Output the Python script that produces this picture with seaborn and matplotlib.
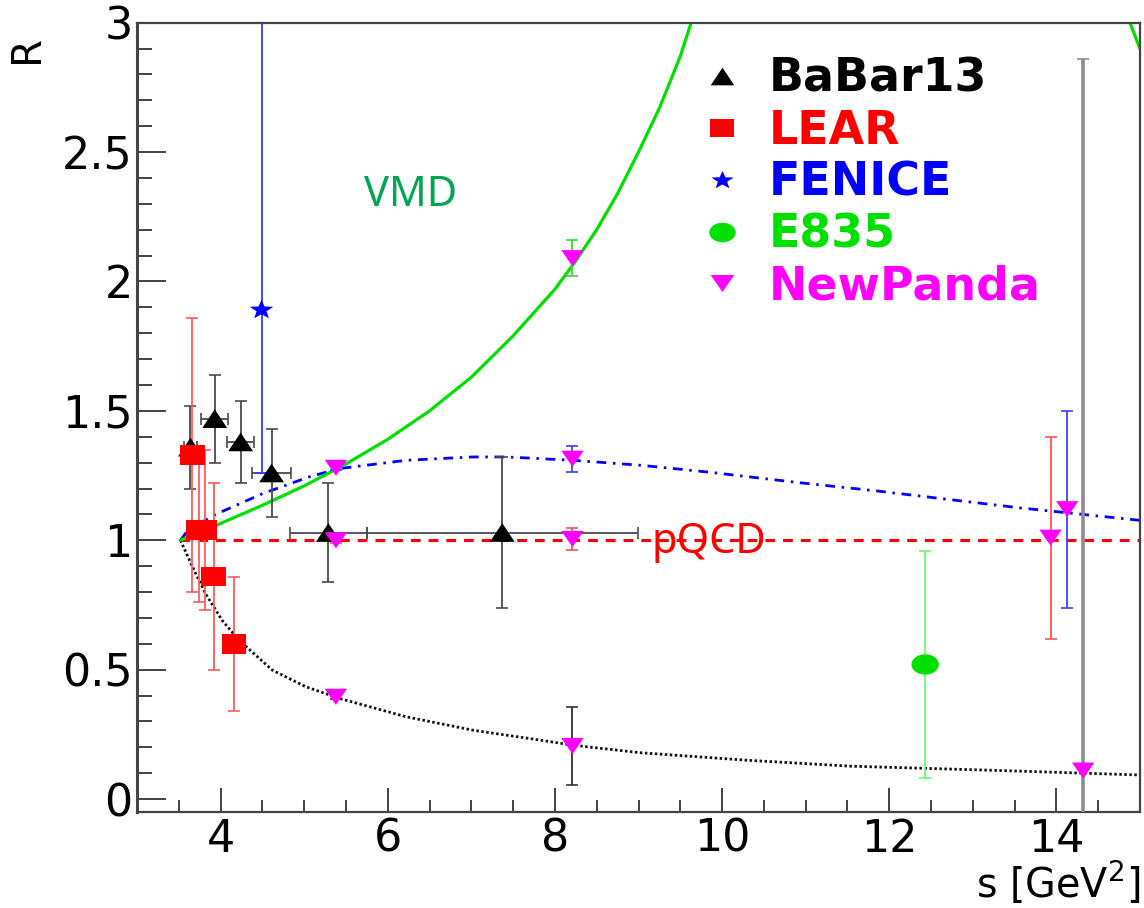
import numpy as np
import matplotlib
matplotlib.use("Agg")
import matplotlib.pyplot as plt
import seaborn as sns
from matplotlib.path import Path
from matplotlib.markers import MarkerStyle
from matplotlib.lines import Line2D
from matplotlib.font_manager import FontProperties
from matplotlib.ticker import MultipleLocator

# ---------------- data ----------------
# BaBar 2013 measurement
babar_s = [3.64, 3.93, 4.24, 4.61, 5.29, 7.37]
babar_R = [1.36, 1.47, 1.38, 1.26, 1.03, 1.03]
babar_dR = [0.16, 0.17, 0.16, 0.17, 0.19, 0.29]
babar_ds = [0.08, 0.16, 0.16, 0.23, 0.46, 1.62]

# LEAR
lear_s = [3.66, 3.74, 3.81, 3.92, 4.16]
lear_R = [1.33, 1.04, 1.04, 0.86, 0.60]
lear_dR = [0.53, 0.28, 0.31, 0.36, 0.26]

# FENICE (asymmetric errors)
fenice_s = [4.49]
fenice_R = [1.89]
fenice_dR_lo = [0.63]
fenice_dR_hi = [1.30]

# E835
e835_s = [12.43]
e835_R = [0.52]
e835_dR = [0.44]

# PANDA projections, grouped by the model they are built on
panda_s = [5.38, 5.38, 5.38, 8.21, 8.21, 8.21, 8.21, 13.93, 14.13, 14.32]
panda_R = [1.28, 1.00, 0.395, 2.09, 1.315, 1.005, 0.205, 1.01, 1.12, 0.11]
panda_dR = [0.01, 0.01, 0.01, 0.07, 0.05, 0.043, 0.15, 0.39, 0.38, 2.75]
panda_model = ["fit", "pqcd", "dipole", "vmd", "fit", "pqcd", "dipole",
               "pqcd", "fit", "dipole_far"]

# model curves
vmd_s = [3.52, 4.0, 4.5, 5.0, 5.5, 6.0, 6.5, 7.0, 7.5, 8.0, 8.25, 8.5,
         8.75, 9.0, 9.25, 9.5, 9.63, 9.75]
vmd_R = [1.00, 1.065, 1.135, 1.21, 1.295, 1.39, 1.50, 1.63, 1.79, 1.97, 2.08,
         2.20, 2.34, 2.50, 2.67, 2.87, 3.0, 3.12]
vmd2_s = [14.82, 15.0]
vmd2_R = [3.05, 2.90]

fit_s = [3.52, 3.6, 3.75, 3.94, 4.5, 5.06, 5.42, 6.22, 7.02, 7.42, 8.22,
         9.02, 9.82, 10.94, 11.87, 13.54, 15.0]
fit_R = [1.0, 1.035, 1.065, 1.10, 1.18, 1.245, 1.277, 1.309, 1.322, 1.322,
         1.309, 1.29, 1.264, 1.222, 1.19, 1.126, 1.077]

dip_s = [3.52, 3.66, 3.82, 4.02, 4.22, 4.62, 5.02, 5.42, 6.22, 7.02, 7.82,
         8.22, 9.02, 10.3, 11.54, 13.36, 15.0]
dip_R = [1.0, 0.90, 0.794, 0.69, 0.614, 0.498, 0.434, 0.389, 0.318, 0.266,
         0.228, 0.208, 0.179, 0.15, 0.127, 0.11, 0.093]

pqcd_s = [3.52, 15.0]
pqcd_R = [1.0, 1.0]

# ---------------- style ----------------
sns.set_theme(style="ticks")
plt.rcParams["font.family"] = ["DejaVu Sans"]
plt.rcParams["mathtext.fontset"] = "dejavusans"
plt.rcParams["text.color"] = "black"
plt.rcParams["axes.labelcolor"] = "black"

C_GREEN = "#00e000"
C_RED = "#ff0000"
C_BLUE = "#0000ff"
C_MAG = "#ff00ff"

model_bar_color = {"vmd": "#33dd33", "pqcd": "#ff5050", "fit": "#4040ff",
                   "dipole": "#333333", "dipole_far": "#8c8c8c"}


def poly_marker(verts):
    verts = list(verts) + [verts[0]]
    codes = [Path.MOVETO] + [Path.LINETO] * (len(verts) - 2) + [Path.CLOSEPOLY]
    return MarkerStyle(Path(verts, codes))


m_tri_up = poly_marker([(-1, -0.75), (1, -0.75), (0, 0.75)])
m_tri_dn = poly_marker([(-1, 0.72), (1, 0.72), (0, -0.72)])
m_square = poly_marker([(-1, -0.8), (1, -0.8), (1, 0.8), (-1, 0.8)])
_circ = Path.unit_circle()
m_ellipse = MarkerStyle(Path(_circ.vertices * np.array([1.0, 0.74]), _circ.codes))
_star = Path.unit_regular_star(5, 0.42)
m_star = MarkerStyle(Path(_star.vertices * np.array([1.0, 0.82]), _star.codes))

fig = plt.figure(figsize=(11.44, 9.08), dpi=100)
ax = fig.add_axes([137 / 1144, 1 - 812 / 908, (1140 - 137) / 1144, (812 - 22.7) / 908])
ax.set_facecolor("white")

# ---------------- curves ----------------
sns.lineplot(x=pqcd_s, y=pqcd_R, sort=False, ax=ax, color=C_RED, linewidth=2.2,
             linestyle=(0, (3.2, 2.6)), zorder=2)
sns.lineplot(x=fit_s, y=fit_R, sort=False, ax=ax, color=C_BLUE, linewidth=2.0,
             linestyle=(0, (3.5, 2.4, 0.9, 2.4)), zorder=2)
sns.lineplot(x=dip_s, y=dip_R, sort=False, ax=ax, color="#111111", linewidth=2.0,
             linestyle=(0, (0.9, 0.9)), zorder=2)
sns.lineplot(x=vmd_s, y=vmd_R, sort=False, ax=ax, color=C_GREEN, linewidth=2.3, zorder=2)
sns.lineplot(x=vmd2_s, y=vmd2_R, sort=False, ax=ax, color=C_GREEN, linewidth=2.3, zorder=2)

# ---------------- error bars ----------------
eb = dict(fmt="none", elinewidth=1.3, capsize=4, capthick=1.2, zorder=3)
ax.errorbar(babar_s, babar_R, yerr=babar_dR, xerr=babar_ds, ecolor="#4a4a4a", **eb)
ax.errorbar(lear_s, lear_R, yerr=lear_dR, ecolor="#ff5a5a", **eb)
ax.errorbar(fenice_s, fenice_R, yerr=[fenice_dR_lo, fenice_dR_hi], ecolor="#3a3aff", **eb)
ax.errorbar(e835_s, e835_R, yerr=e835_dR, ecolor="#66ff66", **eb)
for s, r, d, m in zip(panda_s, panda_R, panda_dR, panda_model):
    lw = 2.6 if m == "dipole_far" else 1.3
    ax.errorbar([s], [r], yerr=[d], ecolor=model_bar_color[m], fmt="none",
                elinewidth=lw, capsize=4, capthick=1.2, zorder=3)

# ---------------- markers ----------------
sc = dict(ax=ax, edgecolor="none", linewidth=0, zorder=5, legend=False)
sns.scatterplot(x=babar_s, y=babar_R, marker=m_tri_up, s=320, color="black", **sc)
sns.scatterplot(x=lear_s, y=lear_R, marker=m_square, s=320, color=C_RED, **sc)
sns.scatterplot(x=fenice_s, y=fenice_R, marker=m_star, s=290, color=C_BLUE, **sc)
sns.scatterplot(x=e835_s, y=e835_R, marker=m_ellipse, s=390, color=C_GREEN, **sc)
sns.scatterplot(x=panda_s, y=panda_R, marker=m_tri_dn, s=260, color=C_MAG, **sc)

# ---------------- model labels ----------------
ax.text(5.72, 2.293, "VMD", color="#00a651", fontsize=30, family="Noto Sans",
        ha="left", va="baseline", zorder=6)
ax.text(9.16, 0.95, "pQCD", color=C_RED, fontsize=30, family="Noto Sans",
        ha="left", va="baseline", zorder=6)

# ---------------- axes ----------------
ax.set_xlim(3, 15)
ax.set_ylim(-0.05, 3.0)
ax.xaxis.set_minor_locator(MultipleLocator(0.5))
ax.yaxis.set_minor_locator(MultipleLocator(0.1))
ax.set_xticks([4, 6, 8, 10, 12, 14])
ax.set_xticklabels(["4", "6", "8", "10", "12", "14"])
ax.set_yticks([0, 0.5, 1, 1.5, 2, 2.5, 3])
ax.set_yticklabels(["0", "0.5", "1", "1.5", "2", "2.5", "3"])

ax.tick_params(axis="both", which="both", direction="in", colors="#222222",
               labelcolor="black", labelsize=32, top=False, right=False)
ax.tick_params(axis="x", which="major", length=17, width=1.2, pad=4)
ax.tick_params(axis="x", which="minor", length=9, width=1.2)
ax.tick_params(axis="y", which="major", length=21, width=1.2, pad=3)
ax.tick_params(axis="y", which="minor", length=11, width=1.2)
for sp in ax.spines.values():
    sp.set_color("#444444")
    sp.set_linewidth(1.6)
ax.spines["left"].set_linewidth(2.2)

ax.set_xlabel("s [GeV$^{2}$]", fontsize=28.5, loc="right", color="black")
ax.xaxis.set_label_coords(1.0, -0.061)
ax.xaxis.label.set_va("top")
ax.set_ylabel("R", fontsize=29, loc="top", color="black")
ax.yaxis.set_label_coords(-0.090, 0.985)

# ---------------- legend ----------------
handles = [
    Line2D([], [], ls="none", marker=m_tri_up, markersize=17, color="black", mew=0),
    Line2D([], [], ls="none", marker=m_square, markersize=17, color=C_RED, mew=0),
    Line2D([], [], ls="none", marker=m_star, markersize=16, color=C_BLUE, mew=0),
    Line2D([], [], ls="none", marker=m_ellipse, markersize=19, color=C_GREEN, mew=0),
    Line2D([], [], ls="none", marker=m_tri_dn, markersize=17, color=C_MAG, mew=0),
]
labels = ["BaBar13", "LEAR", "FENICE", "E835", "NewPanda"]
leg = ax.legend(handles, labels, loc="upper left",
                bbox_to_anchor=(704 / 1144, 1 - 57 / 908), bbox_transform=fig.transFigure,
                frameon=False, borderpad=0, borderaxespad=0, handlelength=0.8,
                handletextpad=0.62, labelspacing=0.15, numpoints=1,
                prop=FontProperties(family="DejaVu Sans", weight="bold", size=33),
                labelcolor=["black", C_RED, C_BLUE, C_GREEN, C_MAG])
leg.set_zorder(7)

fig.savefig("out.png", dpi=100, facecolor="white")
